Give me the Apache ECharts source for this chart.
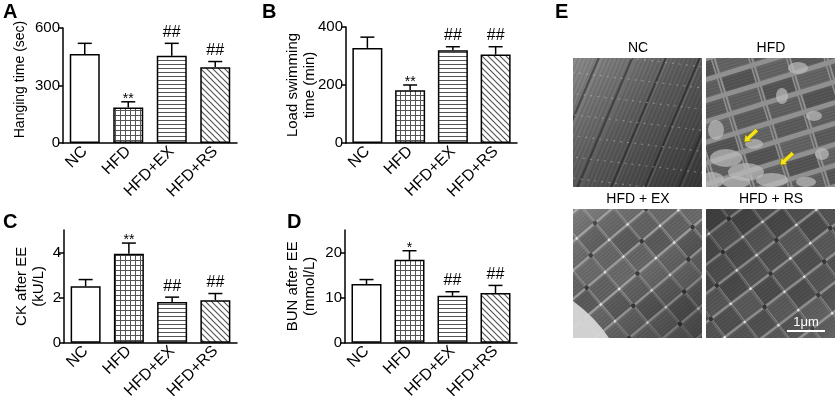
<!DOCTYPE html>
<html>
<head>
<meta charset="utf-8">
<script src="https://cdn.jsdelivr.net/npm/echarts@6/dist/echarts.min.js"></script>
<style>
html, body { margin: 0; padding: 0; background: #fff; }
#chart { width: 837px; height: 402px; }
</style>
</head>
<body>
<div id="chart"></div>
<script>
// groups and values (mean, SEM, significance marks)
var groups = ['NC', 'HFD', 'HFD+EX', 'HFD+RS'];

var hangMean = [465, 185, 455, 395];
var hangErr = [55, 30, 65, 30];
var hangSig = ['', '**', '##', '##'];

var swimMean = [328, 182, 320, 305];
var swimErr = [37, 18, 12, 27];
var swimSig = ['', '**', '##', '##'];

var ckMean = [2.5, 3.95, 1.8, 1.88];
var ckErr = [0.3, 0.47, 0.22, 0.3];
var ckSig = ['', '**', '##', '##'];

var bunMean = [13, 18.4, 10.4, 11];
var bunErr = [1, 2, 0.9, 1.7];
var bunSig = ['', '*', '##', '##'];

var FONT = '"Liberation Sans", Arial, sans-serif';

// bar fill patterns
function makePattern(kind) {
    var s = kind === 'grid' ? 5 : (kind === 'hline' ? 4 : 6);
    var c = document.createElement('canvas');
    c.width = s; c.height = s;
    var g = c.getContext('2d');
    g.fillStyle = '#fff';
    g.fillRect(0, 0, s, s);
    g.fillStyle = '#555';
    g.strokeStyle = '#555';
    if (kind === 'grid') {
        g.fillRect(0, 0, s, 1);
        g.fillRect(0, 0, 1, s);
    } else if (kind === 'hline') {
        g.fillRect(0, 0, s, 1);
    } else if (kind === 'diag') {
        g.lineWidth = 1.2;
        g.beginPath();
        g.moveTo(-1, -1); g.lineTo(s + 1, s + 1);
        g.moveTo(-1, s - 1); g.lineTo(1, s + 1);
        g.moveTo(s - 1, -1); g.lineTo(s + 1, 1);
        g.stroke();
    }
    return { image: c, repeat: 'repeat' };
}
var fills = ['#fff', makePattern('grid'), makePattern('hline'), makePattern('diag')];

// rough stand-ins for the electron micrographs of panel E
function cellGrid(g, W, angle, cw, ch, gap, gapColor, shades, zAlpha, dots) {
    g.save();
    g.translate(W / 2, W / 2);
    g.rotate(angle);
    g.fillStyle = gapColor;
    g.fillRect(-120, -120, 240, 240);
    for (var i = -6; i <= 6; i++) {
        for (var j = -7; j <= 7; j++) {
            var x = i * cw, y = j * ch;
            g.fillStyle = shades[((i * 3 + j * 5) % shades.length + shades.length) % shades.length];
            g.fillRect(x + gap / 2, y + gap / 2, cw - gap, ch - gap);
            g.fillStyle = 'rgba(0,0,0,0.12)';
            for (var k = 3; k < ch - gap; k += 3) {
                g.fillRect(x + gap / 2, y + gap / 2 + k, cw - gap, 1);
            }
            g.fillStyle = 'rgba(15,15,15,' + zAlpha + ')';
            g.fillRect(x - 1, y + gap / 2, 1.5, ch - gap);
            if (dots) {
                var dark = (i + j) % 3 === 0;
                g.fillStyle = dark ? 'rgba(25,25,25,0.75)' : 'rgba(245,245,245,0.85)';
                g.beginPath();
                g.arc(x, y, dark ? 2.2 : 1.3, 0, Math.PI * 2);
                g.fill();
            }
        }
    }
    g.restore();
}

function shade(g, W, stops) {
    var grad = g.createLinearGradient(0, 0, W, W);
    stops.forEach(function (s) { grad.addColorStop(s[0], s[1]); });
    g.fillStyle = grad;
    g.fillRect(0, 0, W, W);
}

function drawTile(kind) {
    var W = 129;
    var c = document.createElement('canvas');
    c.width = W; c.height = W;
    var g = c.getContext('2d');
    var k;
    if (kind === 'NC') {
        shade(g, W, [[0, '#8a8a8a'], [0.45, '#5c5c5c'], [1, '#363636']]);
        g.save();
        g.translate(W / 2, W / 2);
        g.rotate(0.4);
        for (k = -60; k <= 60; k++) {
            g.fillStyle = (k % 2 === 0) ? 'rgba(0,0,0,0.10)' : 'rgba(255,255,255,0.04)';
            g.fillRect(k * 2, -120, 1, 240);
        }
        for (k = -5; k <= 5; k++) {
            g.fillStyle = 'rgba(25,25,25,0.5)';
            g.fillRect(k * 31, -120, 2, 240);
            g.fillStyle = 'rgba(200,200,200,0.18)';
            g.fillRect(k * 31 + 3, -120, 1, 240);
        }
        g.restore();
        g.save();
        g.translate(W / 2, W / 2);
        g.rotate(0.12);
        g.strokeStyle = 'rgba(210,210,210,0.4)';
        g.lineWidth = 1.2;
        g.setLineDash([2, 5]);
        for (k = -6; k <= 6; k++) {
            g.beginPath(); g.moveTo(-120, k * 21); g.lineTo(120, k * 21); g.stroke();
        }
        g.restore();
    } else if (kind === 'HFD') {
        shade(g, W, [[0, '#8e8e8e'], [0.6, '#828282'], [1, '#9c9c9c']]);
        cellGrid(g, W, -0.3, 36, 20, 5, '#909090', ['#5e5e5e', '#666', '#575757', '#626262'], 0.35, false);
        var blobs = [[20, 100, 16, 9], [40, 114, 18, 9], [66, 122, 16, 7], [10, 72, 8, 10], [92, 10, 10, 6],
                     [76, 38, 6, 8], [108, 58, 8, 5], [48, 86, 9, 5], [6, 122, 12, 8], [116, 96, 7, 6],
                     [30, 124, 14, 6], [100, 124, 10, 5]];
        g.fillStyle = 'rgba(190,190,190,0.7)';
        blobs.forEach(function (b) {
            g.beginPath(); g.ellipse(b[0], b[1], b[2], b[3], 0, 0, Math.PI * 2); g.fill();
        });
    } else if (kind === 'EX') {
        cellGrid(g, W, -0.7, 24, 22, 2.5, '#9c9c9c', ['#6e6e6e', '#666', '#5e5e5e', '#6a6a6a'], 0.3, true);
        shade(g, W, [[0, 'rgba(255,255,255,0.18)'], [0.5, 'rgba(0,0,0,0)'], [1, 'rgba(0,0,0,0.35)']]);
        g.fillStyle = 'rgba(215,215,215,0.95)';
        g.beginPath(); g.moveTo(0, 92); g.quadraticCurveTo(22, 108, 36, W); g.lineTo(0, W); g.closePath(); g.fill();
    } else {
        cellGrid(g, W, -0.65, 25, 23, 2.5, '#8e8e8e', ['#565656', '#4e4e4e', '#5c5c5c', '#525252'], 0.35, true);
        shade(g, W, [[0, 'rgba(0,0,0,0.2)'], [0.5, 'rgba(0,0,0,0)'], [1, 'rgba(255,255,255,0.12)']]);
    }
    return c;
}

var tiles = [
    { kind: 'NC', label: 'NC', x: 573, y: 58 },
    { kind: 'HFD', label: 'HFD', x: 706, y: 58 },
    { kind: 'EX', label: 'HFD + EX', x: 573, y: 209 },
    { kind: 'RS', label: 'HFD + RS', x: 706, y: 209 }
];

var grids = [
    { left: 63, top: 28, width: 174, height: 115 },
    { left: 346, top: 27, width: 171, height: 116 },
    { left: 64, top: 230, width: 173, height: 115 },
    { left: 345, top: 230, width: 172, height: 115 }
];

var yNames = ['Hanging time (sec)', 'Load swimming\ntime (min)', 'CK after EE\n(kU/L)', 'BUN after EE\n(mmol/L)'];
var yMax = [600, 400, 5, 25];
var yTicks = [[0, 300, 600], [0, 200, 400], [0, 2, 4], [0, 10, 20]];
var yGaps = [34, 28, 17, 27];
var means = [hangMean, swimMean, ckMean, bunMean];
var errs = [hangErr, swimErr, ckErr, bunErr];
var sigs = [hangSig, swimSig, ckSig, bunSig];

var xAxes = [], yAxes = [], series = [];
grids.forEach(function (gr, i) {
    xAxes.push({
        type: 'category', gridIndex: i, data: groups,
        axisLine: { lineStyle: { color: '#000', width: 1.5 } },
        axisTick: { alignWithLabel: true, length: 5, lineStyle: { color: '#000', width: 1.5 } },
        axisLabel: { rotate: 45, margin: 6, color: '#000', fontSize: 16, fontFamily: FONT, interval: 0 }
    });
    yAxes.push({
        type: 'value', gridIndex: i, min: 0, max: yMax[i],
        interval: yTicks[i][1],
        name: yNames[i], nameLocation: 'middle', nameGap: yGaps[i], nameRotate: 90,
        nameMoveOverlap: false,
        nameTextStyle: { color: '#000', fontSize: i === 0 ? 14 : 15, fontFamily: FONT, lineHeight: 17,
                         padding: i === 0 ? [0, 0, 0, 12] : 0 },
        axisLine: { show: true, lineStyle: { color: '#000', width: 1.5 } },
        axisTick: { show: true, length: 5, customValues: yTicks[i], lineStyle: { color: '#000', width: 1.5 } },
        axisLabel: { margin: 3, color: '#000', fontSize: 15, fontFamily: FONT, customValues: yTicks[i] },
        splitLine: { show: false }
    });
    series.push({
        type: 'bar', xAxisIndex: i, yAxisIndex: i, barWidth: 30,
        data: means[i].map(function (v, k) {
            return { value: v, itemStyle: { color: fills[k] } };
        }),
        itemStyle: { borderColor: '#000', borderWidth: 1.5 },
        emphasis: { disabled: true }
    });
    (function (sig) {
        series.push({
            type: 'custom', xAxisIndex: i, yAxisIndex: i, z: 5,
            data: means[i].map(function (v, k) { return [k, v, v + errs[i][k]]; }),
            renderItem: function (params, api) {
                var lo = api.coord([api.value(0), api.value(1)]);
                var hi = api.coord([api.value(0), api.value(2)]);
                var s = sig[params.dataIndex];
                var kids = [
                    { type: 'line', shape: { x1: lo[0], y1: lo[1], x2: hi[0], y2: hi[1] },
                      style: { stroke: '#000', lineWidth: 1.5 } },
                    { type: 'line', shape: { x1: hi[0] - 7, y1: hi[1], x2: hi[0] + 7, y2: hi[1] },
                      style: { stroke: '#000', lineWidth: 1.5 } }
                ];
                if (s) {
                    var star = s.charAt(0) === '*';
                    kids.push({ type: 'text', x: hi[0], y: hi[1] + (star ? 4 : -3),
                        style: { text: s, align: 'center', verticalAlign: 'bottom', fill: '#000',
                                 fontSize: star ? 14 : 16, fontFamily: FONT } });
                }
                return { type: 'group', children: kids };
            }
        });
    })(sigs[i]);
});

var graphics = [];
[['A', 3, 2], ['B', 262, 2], ['C', 3, 212], ['D', 287, 212], ['E', 555, 2]].forEach(function (p) {
    graphics.push({ type: 'text', left: p[1], top: p[2],
        style: { text: p[0], fill: '#000', font: 'bold 20px ' + FONT } });
});
tiles.forEach(function (t) {
    graphics.push({ type: 'image', style: { image: drawTile(t.kind), x: t.x, y: t.y, width: 129, height: 129 } });
    graphics.push({ type: 'text', style: { text: t.label, x: t.x + 65, y: t.y - 10, align: 'center',
        verticalAlign: 'middle', fill: '#000', font: '14px ' + FONT } });
});
// yellow arrows in the HFD tile
[[757, 130, 744, 142], [793, 153, 780, 165]].forEach(function (a) {
    var dx = a[2] - a[0], dy = a[3] - a[1];
    var len = Math.sqrt(dx * dx + dy * dy), ux = dx / len, uy = dy / len, px = -uy, py = ux;
    var hx = a[2] - ux * 6, hy = a[3] - uy * 6;
    graphics.push({ type: 'polygon', shape: { points: [
        [a[0] + px * 2, a[1] + py * 2], [hx + px * 2, hy + py * 2], [hx + px * 4.5, hy + py * 4.5],
        [a[2], a[3]], [hx - px * 4.5, hy - py * 4.5], [hx - px * 2, hy - py * 2], [a[0] - px * 2, a[1] - py * 2]
    ] }, style: { fill: '#f5e21b', stroke: '#6b5f00', lineWidth: 0.5 } });
});
graphics.push({ type: 'line', shape: { x1: 787, y1: 331, x2: 825, y2: 331 }, style: { stroke: '#fff', lineWidth: 2 } });
graphics.push({ type: 'text', style: { text: '1μm', x: 806, y: 322, align: 'center', verticalAlign: 'middle',
    fill: '#fff', font: '13px ' + FONT } });

var myChart = echarts.init(document.getElementById('chart'));
var option = {
    animation: false,
    backgroundColor: '#fff',
    grid: grids,
    xAxis: xAxes,
    yAxis: yAxes,
    series: series,
    graphic: graphics
};
myChart.setOption(option);
window.onresize = function () {
    myChart.resize();
};
</script>
</body>
</html>
